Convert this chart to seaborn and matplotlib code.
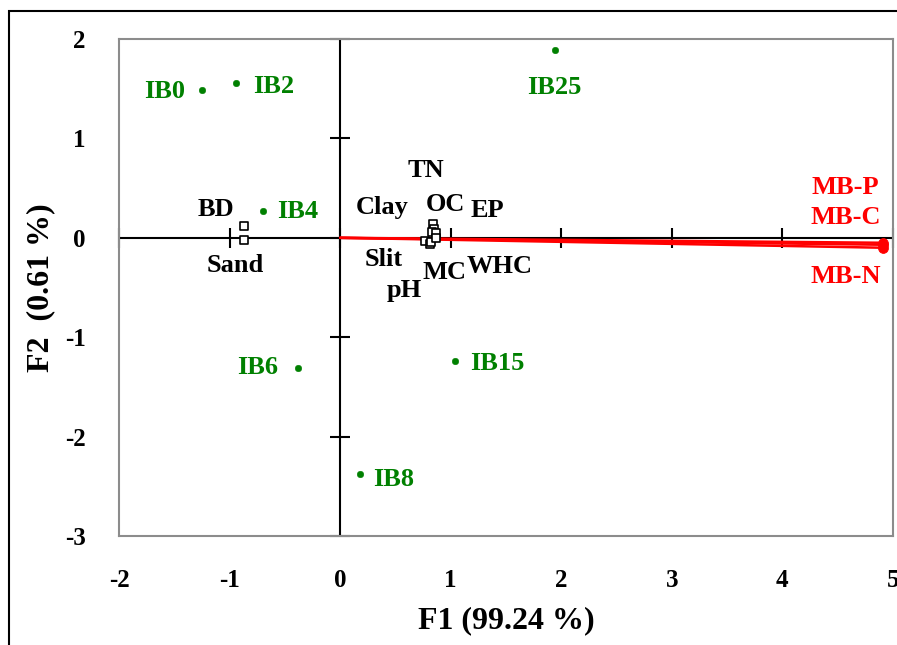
import matplotlib
matplotlib.use("Agg")
import matplotlib.pyplot as plt
import seaborn as sns
import pandas as pd
from matplotlib.patches import Rectangle

# ---- data ----
obs_names = ["IB0", "IB2", "IB4", "IB6", "IB8", "IB15", "IB25"]
obs_f1 = [-1.25, -0.94, -0.70, -0.38, 0.18, 1.04, 1.94]
obs_f2 = [1.49, 1.56, 0.27, -1.31, -2.38, -1.24, 1.89]
obs_lab_x = [-1.59, -0.60, -0.38, -0.75, 0.48, 1.42, 1.94]
obs_lab_y = [1.47, 1.52, 0.26, -1.30, -2.43, -1.26, 1.51]

var_names = ["BD", "Sand", "TN", "OC", "Clay", "EP", "Slit", "pH", "MC", "WHC"]
var_f1 = [-0.87, -0.87, 0.84, 0.85, 0.83, 0.87, 0.77, 0.81, 0.82, 0.87]
var_f2 = [0.12, -0.02, 0.14, 0.09, 0.06, 0.05, -0.03, -0.06, -0.04, 0.00]
var_lab_x = [-1.12, -0.95, 0.78, 0.95, 0.38, 1.33, 0.39, 0.58, 0.94, 1.44]
var_lab_y = [0.28, -0.28, 0.68, 0.33, 0.30, 0.27, -0.22, -0.53, -0.35, -0.29]

sup_names = ["MB-P", "MB-C", "MB-N"]
sup_f1 = [4.91, 4.91, 4.91]
sup_f2 = [-0.05, -0.07, -0.10]
sup_lab_x = [4.57, 4.57, 4.57]
sup_lab_y = [0.51, 0.20, -0.39]

x_ticks = [-2, -1, 0, 1, 2, 3, 4, 5]
y_ticks = [-3, -2, -1, 0, 1, 2]
x_label = "F1 (99.24 %)"
y_label = "F2  (0.61 %)"

sns.set_theme(style="white")
plt.rcParams["font.family"] = ["Liberation Serif", "DejaVu Serif"]
plt.rcParams["font.weight"] = "bold"

GREEN = "#008000"
RED = "#ff0000"

fig = plt.figure(figsize=(8.97, 6.45), dpi=100)
ax = fig.add_axes([119 / 897, 1 - 536 / 645, (893 - 119) / 897, (536 - 39) / 645])

# outer border
fig.patches.append(Rectangle((9 / 897, -0.1), 1.2, 1 - 11 / 645 + 0.1, transform=fig.transFigure,
                             fill=False, edgecolor="black", linewidth=1.5, zorder=0))

ax.set_xlim(-2, 5)
ax.set_ylim(-3, 2)

# zero axes with crossing ticks
ax.axhline(0, color="black", lw=1.5, zorder=1)
ax.axvline(0, color="black", lw=1.5, zorder=1)
ax.plot(x_ticks, [0] * len(x_ticks), linestyle="none", marker="|", markersize=14,
        markeredgewidth=1.5, color="black", zorder=1, clip_on=False)
ax.plot([0] * len(y_ticks), y_ticks, linestyle="none", marker="_", markersize=14,
        markeredgewidth=1.5, color="black", zorder=1, clip_on=False)

# supplementary vectors
for x, y in zip(sup_f1, sup_f2):
    ax.plot([0, x], [0, y], color=RED, lw=1.8, zorder=3)
sns.scatterplot(x=sup_f1, y=sup_f2, ax=ax, color=RED, s=50, edgecolor=RED, zorder=4, legend=False)

# observations
sns.scatterplot(x=obs_f1, y=obs_f2, ax=ax, color=GREEN, s=22, edgecolor=GREEN, zorder=4, legend=False)
# variables
sns.scatterplot(x=var_f1, y=var_f2, ax=ax, marker="s", s=30, facecolor="white",
                edgecolor="black", linewidth=1.2, zorder=5, legend=False)

fs = 19
for n, x, y in zip(obs_names, obs_lab_x, obs_lab_y):
    ax.text(x, y, n, color=GREEN, fontsize=fs, fontweight="bold", ha="center", va="center", zorder=6)
for n, x, y in zip(var_names, var_lab_x, var_lab_y):
    ax.text(x, y, n, color="black", fontsize=fs, fontweight="bold", ha="center", va="center", zorder=6)
for n, x, y in zip(sup_names, sup_lab_x, sup_lab_y):
    ax.text(x, y, n, color=RED, fontsize=fs, fontweight="bold", ha="center", va="center", zorder=6)

ax.set_xticks(x_ticks)
ax.set_yticks(y_ticks)
ax.set_xticklabels([str(t) for t in x_ticks], fontsize=18, fontweight="bold")
ax.set_yticklabels([str(t) for t in y_ticks], fontsize=18, fontweight="bold")
ax.tick_params(axis="x", length=0, pad=24, colors="black")
ax.tick_params(axis="y", length=0, pad=24, colors="black")
for sp in ax.spines.values():
    sp.set_color("#8c8c8c")
    sp.set_linewidth(1.5)
ax.grid(False)

ax.set_xlabel(x_label, fontsize=23, fontweight="bold", labelpad=10, color="black")
ax.set_ylabel(y_label, fontsize=23, fontweight="bold", labelpad=7, color="black")

fig.savefig("out.png", dpi=100)
